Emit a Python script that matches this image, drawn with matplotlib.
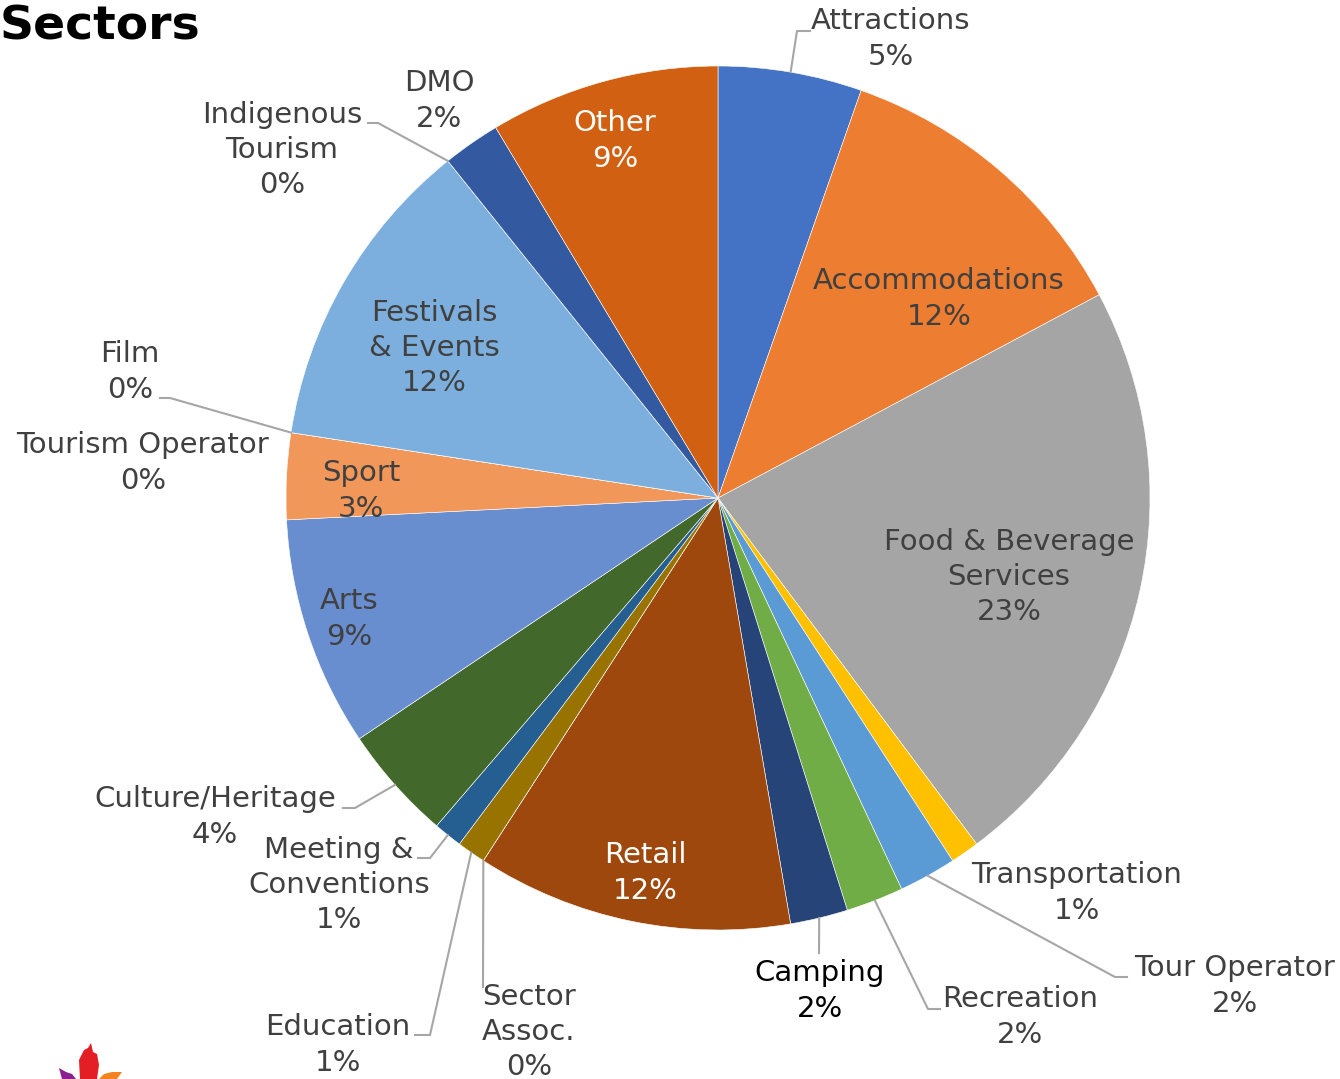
import matplotlib

matplotlib.use("Agg")
import matplotlib.pyplot as plt  # noqa: E402
import numpy as np  # noqa: E402
from matplotlib.patches import Polygon  # noqa: E402

# data: number of respondents per sector (clockwise from 12 o'clock)
sectors = [
    "Attractions", "Accommodations", "Food & Beverage\nServices", "Transportation",
    "Tour Operator", "Recreation", "Camping", "Retail", "Sector\nAssoc.", "Education",
    "Meeting &\nConventions", "Culture/Heritage", "Arts", "Sport", "Tourism Operator",
    "Film", "Festivals\n& Events", "Indigenous\nTourism", "DMO", "Other",
]
counts = [5, 11, 21, 1, 2, 2, 2, 11, 0, 1, 1, 4, 8, 3, 0, 0, 11, 0, 2, 8]
colors = [
    "#4472C4", "#ED7D31", "#A5A5A5", "#FFC000", "#5B9BD5", "#70AD47", "#264478",
    "#9E480E", "#636363", "#997300", "#255E91", "#43682B", "#698ED0", "#F1975A",
    "#B7B7B7", "#FFCD33", "#7CAFDD", "#8CC168", "#335AA1", "#D26012",
]

# layout (pixels): label centre and leader-line elbows
W, H = 1340, 1079
CX, CY, R = 718, 498, 432
label_pos = {
    "Attractions": (891, 39, [(797, 31), (810, 31)]),
    "Accommodations": (939, 299, None),
    "Food & Beverage\nServices": (1009, 577, None),
    "Transportation": (1077, 893, None),
    "Tour Operator": (1235, 986, [(1115, 977), (1127, 977)]),
    "Recreation": (1020, 1017, [(928, 1009), (940, 1009)]),
    "Camping": (820, 991, [(819, 953)]),
    "Retail": (645, 873, None),
    "Sector\nAssoc.": (529, 1032, [(483, 987)]),
    "Education": (338, 1045, [(430, 1035), (415, 1035)]),
    "Meeting &\nConventions": (339, 885, [(430, 858), (418, 858)]),
    "Culture/Heritage": (215, 817, [(355, 808), (343, 808)]),
    "Arts": (349, 619, None),
    "Sport": (361, 491, None),
    "Tourism Operator": (143, 463, None),
    "Film": (130, 372, [(170, 398), (160, 398)]),
    "Festivals\n& Events": (434, 348, None),
    "Indigenous\nTourism": (282, 150, [(378, 123), (368, 123)]),
    "DMO": (439, 101, None),
    "Other": (615, 141, None),
}
white_labels = {"Retail", "Other"}
black_labels = {"Camping"}


def to_data(px, py):
    return (px - CX) / R, (CY - py) / R


fig = plt.figure(figsize=(W / 100, H / 100), dpi=100)
ax = fig.add_axes([(CX - R) / W, (H - CY - R) / H, 2 * R / W, 2 * R / H])

wedges, _ = ax.pie(counts, colors=colors, startangle=90, counterclock=False, radius=1,
                   wedgeprops=dict(linewidth=0.4, edgecolor="white"))
ax.set_xlim(-1, 1)
ax.set_ylim(-1, 1)
ax.axis("off")

total = sum(counts)
for name, n, w in zip(sectors, counts, wedges):
    px, py, elbows = label_pos[name]
    color = "white" if name in white_labels else ("black" if name in black_labels else "#404040")
    ax.text(*to_data(px, py), f"{name}\n{round(100 * n / total):.0f}%", ha="center",
            va="center", fontsize=21, color=color, linespacing=1.33)
    if elbows:
        mid = np.deg2rad((w.theta1 + w.theta2) / 2)
        pts = [(np.cos(mid), np.sin(mid))] + [to_data(*p) for p in elbows]
        xs, ys = zip(*pts)
        ax.plot(xs, ys, color="#A6A6A6", lw=1.5, clip_on=False)

fig.text(0, 1 - 27 / H, "Sectors", fontsize=34, fontweight="bold", ha="left", va="center")

# logo corner
logo = [
    ("#E31E24", [(80, 1079), (79, 1060), (84, 1050), (88, 1048), (91, 1043), (93, 1052),
                 (97, 1054), (99, 1065), (97, 1079)]),
    ("#8E1F8E", [(62, 1079), (59, 1068), (66, 1072), (72, 1074), (76, 1079)]),
    ("#F58220", [(99, 1079), (104, 1074), (112, 1072), (122, 1072), (117, 1079)]),
]
for c, pts in logo:
    fig.patches.append(Polygon([(x / W, 1 - y / H) for x, y in pts], closed=True,
                               facecolor=c, edgecolor="none", transform=fig.transFigure))

fig.savefig("out.png", dpi=100)
